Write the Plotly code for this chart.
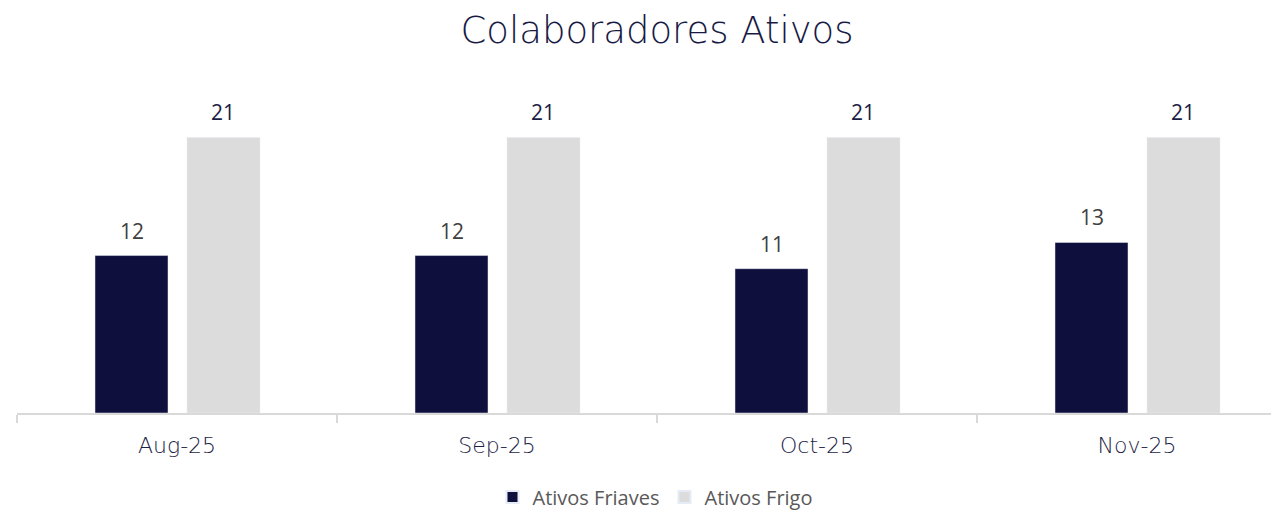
import plotly.graph_objects as go

months = ["Aug-25", "Sep-25", "Oct-25", "Nov-25"]
friaves = [12, 12, 11, 13]
frigo = [21, 21, 21, 21]

NAVY = "#0e0f3c"
LIGHT = "#dcdcdc"
W, H = 1271, 511
ML, MT, MB = 17, 100, 98
cat_px = 320.0
xr_end = -0.5 + (W - ML) / cat_px
px_per_unit = 13.12
yr_end = (H - MT - MB) / px_per_unit

fig = go.Figure()
fig.add_trace(go.Bar(name="Ativos Friaves", x=months, y=friaves, marker_color=NAVY,
                     width=73 / cat_px, offset=-82 / cat_px))
fig.add_trace(go.Bar(name="Ativos Frigo", x=months, y=frigo, marker_color=LIGHT,
                     width=73 / cat_px, offset=10 / cat_px))

for i, (a, b) in enumerate(zip(friaves, frigo)):
    fig.add_annotation(x=i, y=a, text=str(a), showarrow=False, xshift=-45.5, yshift=25,
                       yanchor="middle", font=dict(family="Open Sans", size=21, color="#404040"))
    fig.add_annotation(x=i, y=b, text=str(b), showarrow=False, xshift=46, yshift=25,
                       yanchor="middle", font=dict(family="Open Sans", size=21, color="#1c1d45"))

fig.update_layout(
    width=W, height=H,
    margin=dict(l=ML, r=0, t=MT, b=MB, autoexpand=False),
    paper_bgcolor="white", plot_bgcolor="white",
    title=dict(text="Colaboradores Ativos", x=657 / W, xanchor="center", xref="container",
               y=1 - 30 / H, yref="container", yanchor="middle",
               font=dict(family="DejaVu Sans", size=37, color="#171a44", weight=300)),
    barmode="group",
    showlegend=True,
    legend=dict(orientation="h", x=655 / W, xref="container", xanchor="center",
                y=(H - 497) / H, yref="container", yanchor="middle",
                font=dict(family="Open Sans", size=20, color="#595959"),
                itemsizing="constant"),
    xaxis=dict(type="category", range=[-0.5, xr_end], showgrid=False,
               showline=True, linecolor="#d9d9d9", linewidth=2,
               ticks="outside", tickson="boundaries", ticklen=8, tickcolor="#d9d9d9", tickwidth=2,
               ticklabelstandoff=12,
               tickfont=dict(family="DejaVu Sans", size=22, color="#1c1d45", weight=300),
               fixedrange=True),
    yaxis=dict(range=[0, yr_end], visible=False, showgrid=False, zeroline=False, fixedrange=True),
)

fig.write_html("out.html", config={"displayModeBar": False},
               post_script="document.body.style.margin='0';")
